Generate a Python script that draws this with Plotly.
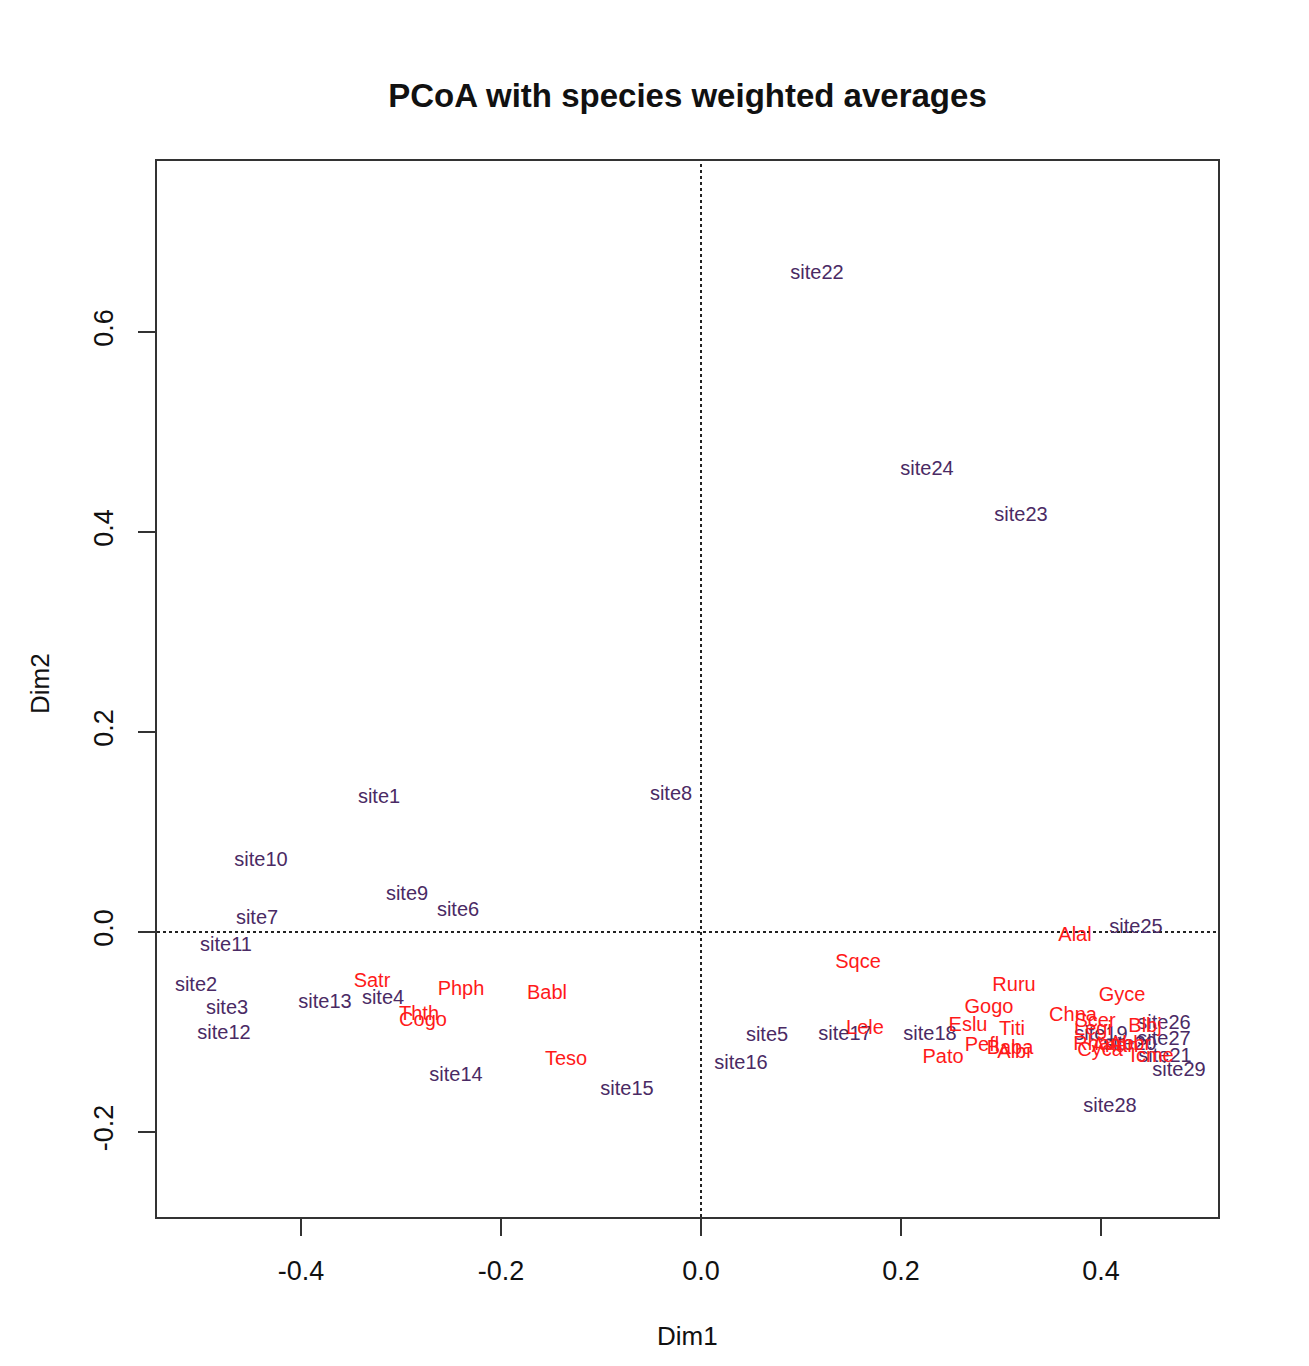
import plotly.graph_objects as go

site_labels = ["site1", "site2", "site3", "site4", "site5", "site6", "site7", "site8", "site9", "site10",
               "site11", "site12", "site13", "site14", "site15", "site16", "site17", "site18", "site19", "site20",
               "site21", "site22", "site23", "site24", "site25", "site26", "site27", "site28", "site29"]
site_dim1 = [-0.322, -0.505, -0.474, -0.318, 0.066, -0.243, -0.444, -0.030, -0.294, -0.440,
             -0.475, -0.477, -0.376, -0.245, -0.074, 0.040, 0.144, 0.229, 0.400, 0.429,
             0.464, 0.116, 0.320, 0.226, 0.435, 0.463, 0.463, 0.409, 0.478]
site_dim2 = [0.134, -0.054, -0.077, -0.067, -0.104, 0.021, 0.013, 0.137, 0.037, 0.071,
             -0.014, -0.102, -0.071, -0.144, -0.158, -0.132, -0.103, -0.103, -0.103, -0.113,
             -0.125, 0.658, 0.416, 0.462, 0.004, -0.092, -0.108, -0.175, -0.139]

species_labels = ["Satr", "Phph", "Thth", "Cogo", "Babl", "Teso", "Sqce", "Lele", "Ruru", "Gogo",
                  "Eslu", "Titi", "Pefl", "Baba", "Albi", "Pato", "Alal", "Gyce", "Chna", "Scer",
                  "Legi", "Blbj", "Rham", "Anan", "Abbr", "Cyca", "Icme"]
species_dim1 = [-0.329, -0.240, -0.282, -0.278, -0.154, -0.135, 0.157, 0.164, 0.313, 0.288,
                0.267, 0.311, 0.281, 0.309, 0.313, 0.242, 0.374, 0.421, 0.372, 0.394,
                0.392, 0.444, 0.399, 0.414, 0.429, 0.399, 0.451]
species_dim2 = [-0.050, -0.058, -0.083, -0.089, -0.062, -0.128, -0.031, -0.097, -0.054, -0.076,
                -0.094, -0.098, -0.114, -0.117, -0.121, -0.126, -0.004, -0.064, -0.084, -0.090,
                -0.098, -0.095, -0.113, -0.115, -0.113, -0.119, -0.125]

x_ticks = [-0.4, -0.2, 0.0, 0.2, 0.4]
y_ticks = [-0.2, 0.0, 0.2, 0.4, 0.6]

FONT = "Liberation Sans, Arial, Helvetica, sans-serif"
SITE_COLOR = "#4a2a64"
SPEC_COLOR = "#ff1a1a"
AXIS_COLOR = "#333333"

fig = go.Figure()
fig.add_trace(go.Scatter(x=site_dim1, y=site_dim2, mode="text", text=site_labels,
                         textposition="middle center",
                         textfont=dict(family=FONT, size=20, color=SITE_COLOR),
                         hoverinfo="text", showlegend=False))
fig.add_trace(go.Scatter(x=species_dim1, y=species_dim2, mode="text", text=species_labels,
                         textposition="middle center",
                         textfont=dict(family=FONT, size=20, color=SPEC_COLOR),
                         hoverinfo="text", showlegend=False))

# dotted reference lines
fig.add_shape(type="line", xref="x", yref="paper", x0=0, x1=0, y0=0, y1=1,
              line=dict(color="#222222", width=2, dash="dot"), layer="below")
fig.add_shape(type="line", xref="paper", yref="y", x0=0, x1=1, y0=0, y1=0,
              line=dict(color="#222222", width=2, dash="dot"), layer="below")

W, H = 1293, 1350
ml, mr, mt, mb = 149, 83, 153, 141

fig.update_layout(
    width=W, height=H,
    margin=dict(l=ml, r=mr, t=mt, b=mb),
    paper_bgcolor="white", plot_bgcolor="white",
    font=dict(family=FONT, color="#111111"),
    title=dict(text="<b>PCoA with species weighted averages</b>",
               x=0.5, xref="paper", xanchor="center",
               y=1 - 87 / H, yref="container", yanchor="middle",
               font=dict(family=FONT, size=33, color="#111111")),
    xaxis=dict(range=[-0.544, 0.517], tickvals=x_ticks,
               ticktext=[f"{v:.1f}" for v in x_ticks],
               showgrid=False, zeroline=False, showline=True, mirror=True,
               linecolor=AXIS_COLOR, linewidth=2, ticks="outside", ticklen=17,
               tickwidth=2, tickcolor=AXIS_COLOR, ticklabelstandoff=12,
               tickfont=dict(family=FONT, size=27, color="#111111")),
    yaxis=dict(range=[-0.285, 0.771], tickvals=y_ticks,
               ticktext=[f"{v:.1f}" for v in y_ticks],
               showgrid=False, zeroline=False, showline=True, mirror=True,
               linecolor=AXIS_COLOR, linewidth=2, ticks="outside", ticklen=17,
               tickwidth=2, tickcolor=AXIS_COLOR, tickangle=-90, ticklabelstandoff=14,
               tickfont=dict(family=FONT, size=27, color="#111111")),
)

fig.add_annotation(text="Dim1", xref="paper", yref="paper", x=0.5, y=-(1328 - (H - mb)) / (H - mt - mb),
                   xanchor="center", yanchor="middle", showarrow=False,
                   font=dict(family=FONT, size=26, color="#111111"))
fig.add_annotation(text="Dim2", xref="paper", yref="paper", x=-(ml - 32) / (W - ml - mr), y=0.5 + ((H - mb + mt) / 2 - (684 - 8)) / (H - mt - mb),
                   xanchor="center", yanchor="middle", showarrow=False, textangle=-90,
                   font=dict(family=FONT, size=26, color="#111111"))

fig.write_html("out.html")
